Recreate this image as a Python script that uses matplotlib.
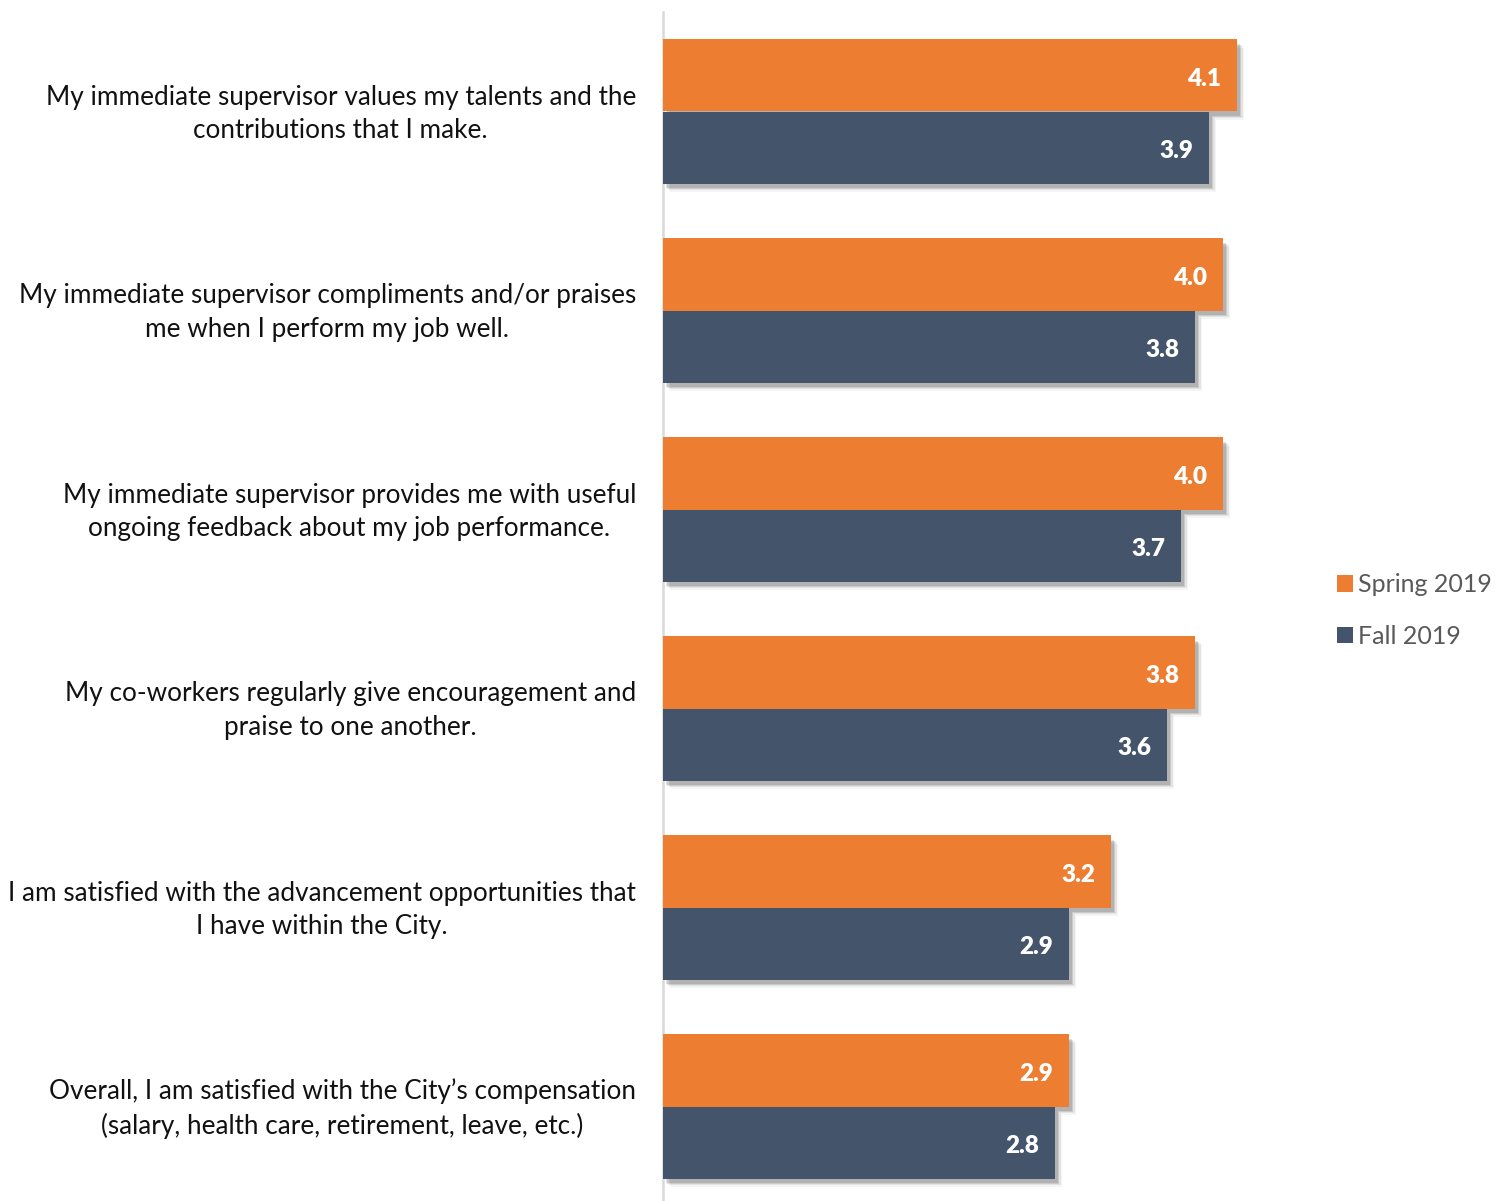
import matplotlib
matplotlib.use("Agg")
import matplotlib.pyplot as plt
import matplotlib.patheffects as pe
import matplotlib.transforms as mtransforms
from matplotlib.patches import Patch
import numpy as np

# Survey statements and mean scores
statements = [
    "My immediate supervisor values my talents and the\ncontributions that I make.",
    "My immediate supervisor compliments and/or praises\nme when I perform my job well.",
    "My immediate supervisor provides me with useful\nongoing feedback about my job performance.",
    "My co-workers regularly give encouragement and\npraise to one another.",
    "I am satisfied with the advancement opportunities that\nI have within the City.",
    "Overall, I am satisfied with the City\u2019s compensation\n(salary, health care, retirement, leave, etc.)",
]
spring_2019 = [4.1, 4.0, 4.0, 3.8, 3.2, 2.9]
fall_2019 = [3.9, 3.8, 3.7, 3.6, 2.9, 2.8]
series_names = ["Spring 2019", "Fall 2019"]
series_colors = ["#ED7D31", "#44546A"]

FONT = "Lato"
plt.rcParams["font.family"] = [FONT, "DejaVu Sans"]

W, H = 1506, 1201
fig = plt.figure(figsize=(W / 100, H / 100), dpi=100)
ax_left, ax_right = 663 / W, 1300 / W
ax_top, ax_bot = 1 - 12 / H, -5 / H
ax = fig.add_axes([ax_left, ax_bot, ax_right - ax_left, ax_top - ax_bot])

y = np.arange(len(statements))
bar_h = 0.362

shadow = [
    pe.SimplePatchShadow(offset=(5, -6), shadow_rgbFace="#000000", alpha=0.04),
    pe.SimplePatchShadow(offset=(4, -5), shadow_rgbFace="#000000", alpha=0.07),
    pe.SimplePatchShadow(offset=(3, -4), shadow_rgbFace="#000000", alpha=0.10),
    pe.SimplePatchShadow(offset=(2, -3), shadow_rgbFace="#000000", alpha=0.12),
    pe.Normal(),
]

for vals, color, off in [(spring_2019, series_colors[0], -bar_h / 2),
                          (fall_2019, series_colors[1], bar_h / 2)]:
    bars = ax.barh(y + off, vals, height=bar_h, color=color, zorder=3)
    for b, v in zip(bars, vals):
        b.set_path_effects(shadow)
        ax.annotate(f"{v:.1f}", xy=(v, b.get_y() + b.get_height() / 2),
                    xytext=(-11.5, -2.2), textcoords="offset points",
                    ha="right", va="center", color="white",
                    fontsize=17.5, fontweight="heavy", zorder=5)

ax.set_xlim(0, 637 / 140)
ax.set_ylim(len(statements) - 0.5, -0.5)
ax.set_yticks(y)
ax.set_yticklabels(statements, fontsize=18.8, color="#111111",
                   multialignment="center", linespacing=1.42)
ax.tick_params(axis="y", length=0, pad=19.5)
ax.set_xticks([])

# nudge the statement labels up a little
nudge = mtransforms.ScaledTranslation(0, 4.5 / 100, fig.dpi_scale_trans)
for lbl in ax.get_yticklabels():
    lbl.set_transform(lbl.get_transform() + nudge)

for s in ["top", "right", "bottom"]:
    ax.spines[s].set_visible(False)
ax.spines["left"].set_color("#D9D9D9")
ax.spines["left"].set_linewidth(1.8)
ax.spines["left"].set_zorder(1)

handles = [Patch(facecolor=c, edgecolor="none", label=n)
           for n, c in zip(series_names, series_colors)]
leg = fig.legend(handles=handles, loc="center left",
                 bbox_to_anchor=(1327 / W, 1 - 610.5 / H),
                 frameon=False, fontsize=18, handlelength=0.65, handleheight=0.65,
                 handletextpad=0.18, labelspacing=1.15, borderaxespad=0)
for t in leg.get_texts():
    t.set_color("#595959")

fig.savefig("out.png", dpi=100)
